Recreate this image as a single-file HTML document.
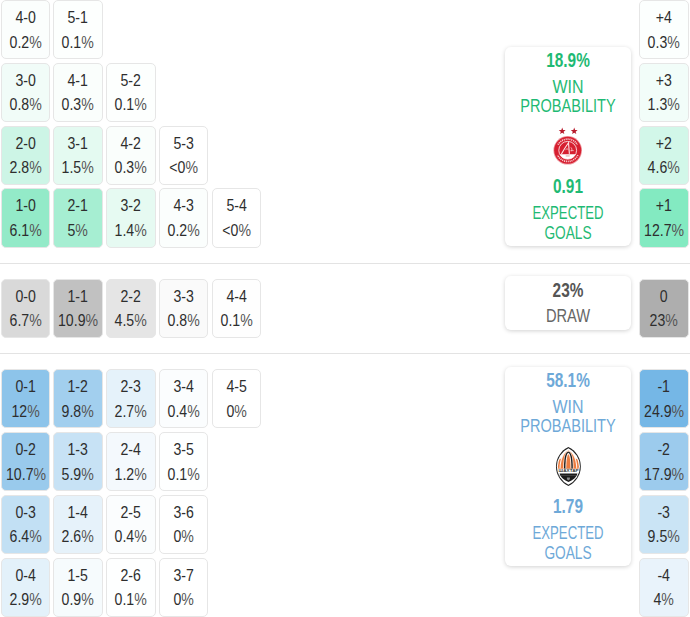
<!DOCTYPE html>
<html><head><meta charset="utf-8"><style>
*{margin:0;padding:0;box-sizing:border-box}
html,body{width:690px;height:617px;background:#fff;overflow:hidden;font-family:"Liberation Sans",sans-serif}
.b{position:absolute;border:1px solid #e6e6e6;border-radius:5px;color:#2e2e2e;font-size:17px;text-align:center}
.b i{position:absolute;left:0;right:0;font-style:normal;transform:scaleX(0.83);white-space:nowrap;line-height:20px}
.b i:first-child{top:7px}
.b i:last-child{top:31.5px}
.b s{text-decoration:none;color:#555}
.hr{position:absolute;left:0;width:690px;height:1px;background:#e3e3e3}
.card{position:absolute;left:505.2px;width:126.3px;background:#fff;border-radius:6px;box-shadow:0 1px 4px rgba(0,0,0,0.18);text-align:center}
.t{position:absolute;left:504.9px;width:126px;text-align:center;white-space:nowrap;line-height:20px}
.logo{position:absolute}
</style></head><body>
<div class="b" style="left:0.50px;top:0.00px;width:49.30px;height:59.20px;background:rgb(251,254,253)"><i>4-0</i><i>0.2<s>%</s></i></div><div class="b" style="left:53.37px;top:0.00px;width:49.30px;height:59.20px;background:rgb(253,255,254)"><i>5-1</i><i>0.1<s>%</s></i></div><div class="b" style="left:639.20px;top:0.00px;width:49.40px;height:59.20px;background:rgb(252,255,254)"><i>+4</i><i>0.3<s>%</s></i></div><div class="b" style="left:0.50px;top:62.80px;width:49.30px;height:59.20px;background:rgb(241,252,248)"><i>3-0</i><i>0.8<s>%</s></i></div><div class="b" style="left:53.37px;top:62.80px;width:49.30px;height:59.20px;background:rgb(250,254,252)"><i>4-1</i><i>0.3<s>%</s></i></div><div class="b" style="left:106.24px;top:62.80px;width:49.30px;height:59.20px;background:rgb(253,255,254)"><i>5-2</i><i>0.1<s>%</s></i></div><div class="b" style="left:639.20px;top:62.80px;width:49.40px;height:59.20px;background:rgb(242,253,249)"><i>+3</i><i>1.3<s>%</s></i></div><div class="b" style="left:0.50px;top:125.60px;width:49.30px;height:59.20px;background:rgb(205,245,230)"><i>2-0</i><i>2.8<s>%</s></i></div><div class="b" style="left:53.37px;top:125.60px;width:49.30px;height:59.20px;background:rgb(228,250,241)"><i>3-1</i><i>1.5<s>%</s></i></div><div class="b" style="left:106.24px;top:125.60px;width:49.30px;height:59.20px;background:rgb(250,254,252)"><i>4-2</i><i>0.3<s>%</s></i></div><div class="b" style="left:159.11px;top:125.60px;width:49.30px;height:59.20px;background:rgb(255,255,255)"><i>5-3</i><i>&lt;0<s>%</s></i></div><div class="b" style="left:639.20px;top:125.60px;width:49.40px;height:59.20px;background:rgb(210,247,233)"><i>+2</i><i>4.6<s>%</s></i></div><div class="b" style="left:0.50px;top:188.40px;width:49.30px;height:59.20px;background:rgb(147,234,200)"><i>1-0</i><i>6.1<s>%</s></i></div><div class="b" style="left:53.37px;top:188.40px;width:49.30px;height:59.20px;background:rgb(166,238,210)"><i>2-1</i><i>5<s>%</s></i></div><div class="b" style="left:106.24px;top:188.40px;width:49.30px;height:59.20px;background:rgb(230,250,242)"><i>3-2</i><i>1.4<s>%</s></i></div><div class="b" style="left:159.11px;top:188.40px;width:49.30px;height:59.20px;background:rgb(251,254,253)"><i>4-3</i><i>0.2<s>%</s></i></div><div class="b" style="left:211.98px;top:188.40px;width:49.30px;height:59.20px;background:rgb(255,255,255)"><i>5-4</i><i>&lt;0<s>%</s></i></div><div class="b" style="left:639.20px;top:188.40px;width:49.40px;height:59.20px;background:rgb(131,234,193)"><i>+1</i><i>12.7<s>%</s></i></div><div class="b" style="left:0.50px;top:278.75px;width:49.30px;height:59.20px;background:rgb(217,217,217)"><i>0-0</i><i>6.7<s>%</s></i></div><div class="b" style="left:53.37px;top:278.75px;width:49.30px;height:59.20px;background:rgb(193,193,193)"><i>1-1</i><i>10.9<s>%</s></i></div><div class="b" style="left:106.24px;top:278.75px;width:49.30px;height:59.20px;background:rgb(229,229,229)"><i>2-2</i><i>4.5<s>%</s></i></div><div class="b" style="left:159.11px;top:278.75px;width:49.30px;height:59.20px;background:rgb(250,250,250)"><i>3-3</i><i>0.8<s>%</s></i></div><div class="b" style="left:211.98px;top:278.75px;width:49.30px;height:59.20px;background:rgb(254,254,254)"><i>4-4</i><i>0.1<s>%</s></i></div><div class="b" style="left:639.20px;top:278.75px;width:49.40px;height:59.20px;background:rgb(174,174,174)"><i>0</i><i>23<s>%</s></i></div><div class="b" style="left:0.50px;top:369.20px;width:49.30px;height:59.20px;background:rgb(141,196,234)"><i>0-1</i><i>12<s>%</s></i></div><div class="b" style="left:53.37px;top:369.20px;width:49.30px;height:59.20px;background:rgb(162,207,238)"><i>1-2</i><i>9.8<s>%</s></i></div><div class="b" style="left:106.24px;top:369.20px;width:49.30px;height:59.20px;background:rgb(229,242,250)"><i>2-3</i><i>2.7<s>%</s></i></div><div class="b" style="left:159.11px;top:369.20px;width:49.30px;height:59.20px;background:rgb(251,253,254)"><i>3-4</i><i>0.4<s>%</s></i></div><div class="b" style="left:211.98px;top:369.20px;width:49.30px;height:59.20px;background:rgb(255,255,255)"><i>4-5</i><i>0<s>%</s></i></div><div class="b" style="left:639.20px;top:369.20px;width:49.40px;height:59.20px;background:rgb(117,183,230)"><i>-1</i><i>24.9<s>%</s></i></div><div class="b" style="left:0.50px;top:432.00px;width:49.30px;height:59.20px;background:rgb(153,202,236)"><i>0-2</i><i>10.7<s>%</s></i></div><div class="b" style="left:53.37px;top:432.00px;width:49.30px;height:59.20px;background:rgb(199,226,245)"><i>1-3</i><i>5.9<s>%</s></i></div><div class="b" style="left:106.24px;top:432.00px;width:49.30px;height:59.20px;background:rgb(244,249,253)"><i>2-4</i><i>1.2<s>%</s></i></div><div class="b" style="left:159.11px;top:432.00px;width:49.30px;height:59.20px;background:rgb(254,255,255)"><i>3-5</i><i>0.1<s>%</s></i></div><div class="b" style="left:639.20px;top:432.00px;width:49.40px;height:59.20px;background:rgb(156,203,237)"><i>-2</i><i>17.9<s>%</s></i></div><div class="b" style="left:0.50px;top:494.80px;width:49.30px;height:59.20px;background:rgb(194,224,244)"><i>0-3</i><i>6.4<s>%</s></i></div><div class="b" style="left:53.37px;top:494.80px;width:49.30px;height:59.20px;background:rgb(230,242,250)"><i>1-4</i><i>2.6<s>%</s></i></div><div class="b" style="left:106.24px;top:494.80px;width:49.30px;height:59.20px;background:rgb(251,253,254)"><i>2-5</i><i>0.4<s>%</s></i></div><div class="b" style="left:159.11px;top:494.80px;width:49.30px;height:59.20px;background:rgb(255,255,255)"><i>3-6</i><i>0<s>%</s></i></div><div class="b" style="left:639.20px;top:494.80px;width:49.40px;height:59.20px;background:rgb(202,228,245)"><i>-3</i><i>9.5<s>%</s></i></div><div class="b" style="left:0.50px;top:557.60px;width:49.30px;height:59.20px;background:rgb(227,241,250)"><i>0-4</i><i>2.9<s>%</s></i></div><div class="b" style="left:53.37px;top:557.60px;width:49.30px;height:59.20px;background:rgb(246,251,253)"><i>1-5</i><i>0.9<s>%</s></i></div><div class="b" style="left:106.24px;top:557.60px;width:49.30px;height:59.20px;background:rgb(254,255,255)"><i>2-6</i><i>0.1<s>%</s></i></div><div class="b" style="left:159.11px;top:557.60px;width:49.30px;height:59.20px;background:rgb(255,255,255)"><i>3-7</i><i>0<s>%</s></i></div><div class="b" style="left:639.20px;top:557.60px;width:49.40px;height:59.20px;background:rgb(233,243,251)"><i>-4</i><i>4<s>%</s></i></div>
<div class="hr" style="top:263px"></div>
<div class="hr" style="top:353px"></div>
<div class="card" style="top:47px;height:199px"></div>
<div class="card" style="top:276px;height:54px"></div>
<div class="card" style="top:367px;height:199px"></div>
<div class="t" style="top:50px;font-size:20px;font-weight:bold;transform:scaleX(0.77);color:#1fba74">18.9%</div><div class="t" style="top:77px;font-size:18.8px;font-weight:normal;transform:scaleX(0.85);color:#1fba74">WIN</div><div class="t" style="top:96.3px;font-size:18.8px;font-weight:normal;transform:scaleX(0.775);color:#1fba74">PROBABILITY</div><div class="t" style="top:176px;font-size:20px;font-weight:bold;transform:scaleX(0.77);color:#1fba74">0.91</div><div class="t" style="top:202.5px;font-size:18.8px;font-weight:normal;transform:scaleX(0.7);color:#1fba74">EXPECTED</div><div class="t" style="top:222.5px;font-size:18.8px;font-weight:normal;transform:scaleX(0.73);color:#1fba74">GOALS</div><div class="t" style="top:370px;font-size:20px;font-weight:bold;transform:scaleX(0.77);color:#6ea9d8">58.1%</div><div class="t" style="top:397px;font-size:18.8px;font-weight:normal;transform:scaleX(0.85);color:#6ea9d8">WIN</div><div class="t" style="top:416.3px;font-size:18.8px;font-weight:normal;transform:scaleX(0.775);color:#6ea9d8">PROBABILITY</div><div class="t" style="top:496px;font-size:20px;font-weight:bold;transform:scaleX(0.77);color:#6ea9d8">1.79</div><div class="t" style="top:522.5px;font-size:18.8px;font-weight:normal;transform:scaleX(0.7);color:#6ea9d8">EXPECTED</div><div class="t" style="top:542.5px;font-size:18.8px;font-weight:normal;transform:scaleX(0.73);color:#6ea9d8">GOALS</div><div class="t" style="top:280px;font-size:20px;font-weight:bold;transform:scaleX(0.77);color:#555">23%</div><div class="t" style="top:306px;font-size:18.8px;font-weight:normal;transform:scaleX(0.78);color:#666">DRAW</div>
<svg class="logo" style="left:545px;top:120px" width="45" height="50" viewBox="545 120 45 50">
<polygon points="562.20,127.60 563.08,129.99 565.62,130.09 563.63,131.66 564.32,134.11 562.20,132.70 560.08,134.11 560.77,131.66 558.78,130.09 561.32,129.99" fill="#b81b2c"/><polygon points="574.20,127.60 575.08,129.99 577.62,130.09 575.63,131.66 576.32,134.11 574.20,132.70 572.08,134.11 572.77,131.66 570.78,130.09 573.32,129.99" fill="#b81b2c"/>
<circle cx="567.7" cy="150.3" r="14.3" fill="#ee9aa1"/>
<circle cx="567.7" cy="150.3" r="13.5" fill="#d61f30"/>
<path d="M558.00 144.70 A11.2 11.2 0 0 1 577.40 144.70" fill="none" stroke="#f8c9cc" stroke-width="1.7" stroke-dasharray="1.1 0.8"/>
<path d="M577.85 155.03 A11.2 11.2 0 0 1 557.55 155.03" fill="none" stroke="#f8c9cc" stroke-width="1.7" stroke-dasharray="1.1 0.8"/>
<circle cx="567.7" cy="150.3" r="8.9" fill="none" stroke="#fbe0e2" stroke-width="0.9"/>
<path d="M559.80 154.20 L575.60 154.20 A8.8 8.8 0 0 1 559.80 154.20 Z" fill="#fff"/>
<path d="M561.40 153.90 Q565.20 147.30 568.50 142.70 L569.40 153.90" fill="none" stroke="#fde3e5" stroke-width="1.1"/>
<path d="M565.40 149.80 q1.6 -2.2 3.2 0 M570.90 147.30 q2 1.5 0.4 4 M570.50 150.60 l3.2 0" fill="none" stroke="#f5b3b8" stroke-width="0.9"/>
<rect x="565.70" y="155.50" width="4" height="0.9" fill="#d99"/>
</svg>
<svg class="logo" style="left:550px;top:442px" width="38" height="50" viewBox="550 442 38 50">
<defs><clipPath id="sk"><path d="M568.40 450.04 A18.15 18.15 0 0 1 568.40 482.96 A18.15 18.15 0 0 1 568.40 450.04Z"/></clipPath><clipPath id="sk2"><path d="M568.40 451.64 A16.37 16.37 0 0 1 568.40 481.36 A16.37 16.37 0 0 1 568.40 451.64Z"/></clipPath></defs>
<path d="M568.40 447.00 A21.53 21.53 0 0 1 568.40 486.00 A21.53 21.53 0 0 1 568.40 447.00Z" fill="#1e1e1e"/>
<path d="M568.40 448.36 A20.02 20.02 0 0 1 568.40 484.64 A20.02 20.02 0 0 1 568.40 448.36Z" fill="#fff"/>
<g clip-path="url(#sk)">
<rect x="550" y="458.8" width="40" height="10" fill="#ec7c40"/>
<path d="M559.50 468.4 C559.50 456.05 565.73 450.35 568.40 449.40 C571.07 450.35 577.30 456.05 577.30 468.4Z" fill="#fff1e8"/><path d="M560.60 468.4 C560.60 456.70 566.06 451.30 568.40 450.40 C570.74 451.30 576.20 456.70 576.20 468.4Z" fill="#ec7c40"/><path d="M563.20 468.4 C563.20 455.20 565.80 451.68 568.40 450.80 C571.00 451.68 573.60 455.20 573.60 468.4Z" fill="#fff1e8"/><path d="M564.00 468.4 C564.00 454.80 565.98 452.25 568.40 451.40 C570.82 452.25 572.80 454.80 572.80 468.4Z" fill="#1c1c1c"/><path d="M565.40 468.4 C565.40 456.70 566.90 453.58 568.40 452.80 C569.90 453.58 571.40 456.70 571.40 468.4Z" fill="#fff1e8"/><path d="M566.30 468.4 C566.30 458.46 567.56 454.91 568.40 454.20 C569.24 454.91 570.50 458.46 570.50 468.4Z" fill="#ec7c40"/>
</g>
<g>
<path d="M559.6 473.5 L577.4 473.5 C577 477 572.5 480.2 568.5 482 C564.5 480.2 560 477 559.6 473.5Z" fill="#1c1c1c"/>
<rect x="558" y="475.2" width="21" height="0.4" fill="#777"/>
<path d="M566.90 477.4 L569.90 477.4 L569.90 479.3 L568.40 480.5 L566.90 479.3Z" fill="#8a8a8a"/>
</g>
<text x="568.6" y="472.3" font-family="Liberation Sans" font-weight="bold" font-size="4.4" text-anchor="middle" fill="#333" textLength="20" lengthAdjust="spacingAndGlyphs">ШАХТАР</text>
</svg>
</body></html>
